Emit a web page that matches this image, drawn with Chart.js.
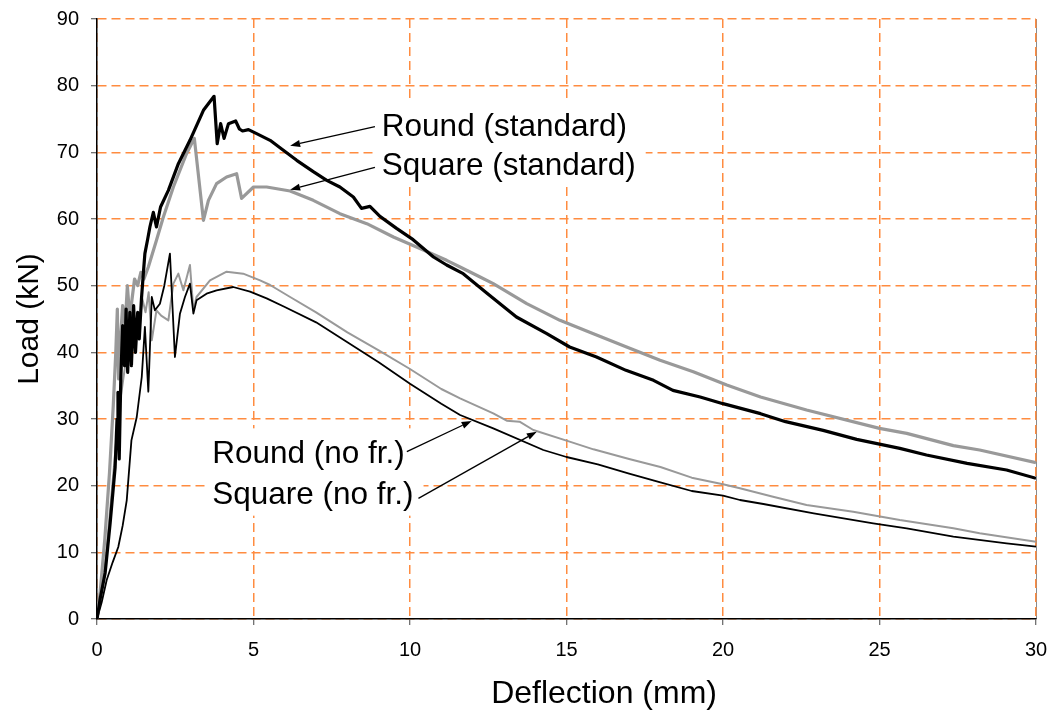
<!DOCTYPE html>
<html>
<head>
<meta charset="utf-8">
<script src="https://cdn.jsdelivr.net/npm/chart.js@4/dist/chart.umd.min.js"></script>
<style>
  html, body { margin: 0; padding: 0; background: #fff; }
  canvas { display: block; }
</style>
</head>
<body>
<canvas id="chart" width="1052" height="713"></canvas>
<script>
// Load–deflection curves: deflection in mm, load in kN
const roundStdX = [0, 0.1, 0.26, 0.42, 0.58, 0.64, 0.67, 0.71, 0.76, 0.82, 0.88, 0.93, 0.98, 1.05, 1.1, 1.17, 1.23, 1.3, 1.35, 1.42, 1.48, 1.53, 1.62, 1.69, 1.8, 1.9, 2.03, 2.28, 2.6, 2.97, 3.4, 3.74, 3.84, 3.95, 4.06, 4.2, 4.43, 4.55, 4.65, 4.84, 5.1, 5.53, 5.9, 6.38, 6.91, 7.34, 7.76, 8.19, 8.45, 8.72, 9.04, 9.57, 10.1, 10.75, 11.17, 11.7, 12.45, 13.4, 14.37, 15.1, 15.96, 16.9, 17.78, 18.4, 19.27, 20, 21.2, 22.0, 23.2, 24.27, 25.65, 26.5, 27.8, 29.06, 30];
const roundStdY = [0, 3, 6.9, 14.4, 22.8, 30, 34, 24, 36, 44, 38, 46.5, 37, 46, 38, 47, 40, 46, 42, 48, 51.8, 54.8, 57, 58.8, 61, 58.8, 61.8, 64.3, 68.3, 71.8, 76.3, 78.4, 71.3, 74.3, 72.1, 74.3, 74.7, 73.5, 73.2, 73.4, 72.8, 71.8, 70.5, 68.8, 67.1, 65.8, 64.8, 63.3, 61.6, 61.9, 60.4, 58.6, 56.9, 54.3, 53.1, 51.8, 48.9, 45.3, 42.8, 40.8, 39.3, 37.3, 35.8, 34.3, 33.3, 32.3, 30.8, 29.6, 28.3, 26.95, 25.6, 24.6, 23.35, 22.35, 21.1];

const squareStdX = [0, 0.1, 0.25, 0.4, 0.52, 0.6, 0.65, 0.69, 0.75, 0.82, 0.9, 0.97, 1.05, 1.12, 1.2, 1.3, 1.4, 1.5, 1.64, 1.9, 2.12, 2.44, 2.86, 3.11, 3.4, 3.56, 3.82, 4.14, 4.46, 4.62, 5.0, 5.42, 6.17, 6.91, 7.76, 8.62, 9.47, 10.3, 11.17, 11.6, 12.24, 12.66, 13.73, 14.79, 15.86, 16.92, 17.99, 19.05, 20.12, 21.2, 22.67, 25.0, 25.87, 27.36, 28.2, 30];
const squareStdY = [0, 4, 12, 22, 32, 40, 46.5, 36, 42, 47, 44, 50, 45, 48, 51, 50, 52, 51, 52.8, 56.8, 60.3, 64.8, 69.8, 72.1, 59.8, 62.8, 65.3, 66.3, 66.8, 63.1, 64.8, 64.8, 64.2, 62.8, 60.8, 59.3, 57.3, 55.6, 53.8, 52.8, 51.3, 50.3, 47.3, 44.8, 42.8, 40.8, 38.8, 37.1, 35.1, 33.3, 31.35, 28.6, 27.85, 26.0, 25.35, 23.45];

const roundNoFrX = [0, 0.15, 0.31, 0.5, 0.68, 0.82, 0.95, 1.05, 1.1, 1.27, 1.43, 1.53, 1.64, 1.75, 1.85, 2.01, 2.15, 2.33, 2.49, 2.65, 2.81, 2.97, 3.08, 3.18, 3.5, 3.82, 4.35, 4.89, 5.42, 6, 7, 8, 9, 10, 11, 11.6, 12.66, 14.26, 15, 16, 17, 18, 19, 20, 20.54, 21.29, 22.9, 24.8, 25.87, 27.36, 29.06, 30];
const roundNoFrY = [0, 2.5, 5.85, 8.5, 10.8, 14, 17.8, 23.8, 26.8, 30.3, 36.3, 43.8, 34.1, 48.3, 46.3, 47.3, 50, 54.8, 39.3, 45.8, 48.3, 50.3, 45.8, 47.8, 48.8, 49.3, 49.8, 49.1, 48.1, 46.8, 44.5, 41.5, 38.5, 35.3, 32.3, 30.6, 28.6, 25.35, 24.3, 23.2, 21.8, 20.5, 19.2, 18.5, 17.85, 17.25, 15.85, 14.35, 13.6, 12.35, 11.35, 10.85];

const squareNoFrX = [0, 0.15, 0.3, 0.45, 0.6, 0.75, 0.9, 1.05, 1.2, 1.35, 1.45, 1.55, 1.65, 1.75, 1.9, 2.05, 2.28, 2.44, 2.6, 2.76, 2.97, 3.08, 3.18, 3.61, 4.14, 4.67, 5.21, 5.53, 6.17, 7, 8, 9, 10, 11, 11.6, 12.66, 13.09, 13.5, 13.94, 15.1, 15.86, 17, 18, 19, 20, 20.54, 21.6, 22.67, 24.16, 25.65, 27.36, 28.2, 30];
const squareNoFrY = [0, 4, 10, 18, 26, 33, 38, 42, 45, 44, 48, 46, 49, 41.8, 46.3, 45.5, 44.8, 50.3, 51.8, 49.3, 53.1, 46.3, 48.3, 50.8, 52.1, 51.8, 50.8, 50.1, 48.3, 46, 43, 40.3, 37.5, 34.5, 33.1, 30.85, 29.75, 29.6, 28.35, 26.6, 25.45, 24, 22.8, 21.2, 20.2, 19.6, 18.35, 17.1, 16.1, 14.85, 13.6, 12.85, 11.6];

// Axis ranges and tick spacing
const xTickValues = [0, 5, 10, 15, 20, 25, 30];
const yTickValues = [0, 10, 20, 30, 40, 50, 60, 70, 80, 90];

const seriesNames = ['Round (standard)', 'Square (standard)', 'Round (no fr.)', 'Square (no fr.)'];
const xAxisTitle = 'Deflection (mm)';
const yAxisTitle = 'Load (kN)';

function toPoints(xs, ys) {
  return xs.map((x, i) => ({ x: x, y: ys[i] }));
}

const FONT = "'Liberation Sans', Arial, Helvetica, sans-serif";
const CALLOUT_FONT = '31.5px ' + FONT;

// Callout groups: text block placed at a data position, arrows from the text to each curve
const callouts = [
  {
    lines: [
      { text: seriesNames[0], x: 9.1, y: 72.5, tail: [8.88, 73.84], tip: [6.17, 71.0] },
      { text: seriesNames[1], x: 9.1, y: 66.6, tail: [8.88, 67.75], tip: [6.17, 64.4] }
    ]
  },
  {
    lines: [
      { text: seriesNames[2], x: 3.68, y: 23.35, tail: [9.9, 25.1], tip: [11.97, 29.7] },
      { text: seriesNames[3], x: 3.68, y: 17.3, tail: [10.27, 18.1], tip: [14.05, 28.1] }
    ]
  }
];

function drawArrow(ctx, x1, y1, x2, y2) {
  const ang = Math.atan2(y2 - y1, x2 - x1);
  const head = 10, half = 3.5;
  const bx = x2 - head * Math.cos(ang), by = y2 - head * Math.sin(ang);
  ctx.beginPath();
  ctx.moveTo(x1, y1);
  ctx.lineTo(bx, by);
  ctx.stroke();
  ctx.beginPath();
  ctx.moveTo(x2, y2);
  ctx.lineTo(bx + half * Math.sin(ang), by - half * Math.cos(ang));
  ctx.lineTo(bx - half * Math.sin(ang), by + half * Math.cos(ang));
  ctx.closePath();
  ctx.fill();
}

const calloutPlugin = {
  id: 'callouts',
  beforeDraw(chart) {
    // thin grey frame line on the right edge of the plot, under the grid dashes
    const { ctx, chartArea } = chart;
    ctx.save();
    ctx.strokeStyle = '#8a8a8a';
    ctx.lineWidth = 1;
    ctx.beginPath();
    ctx.moveTo(Math.round(chartArea.right) + 0.5, chartArea.top);
    ctx.lineTo(Math.round(chartArea.right) + 0.5, chartArea.bottom);
    ctx.stroke();
    ctx.restore();
  },
  beforeDatasetsDraw(chart) {
    // white panels behind the callout text hide the grid
    const { ctx, scales } = chart;
    ctx.save();
    ctx.font = CALLOUT_FONT;
    ctx.fillStyle = '#ffffff';
    callouts.forEach(g => {
      const xs = g.lines.map(l => scales.x.getPixelForValue(l.x));
      const ys = g.lines.map(l => scales.y.getPixelForValue(l.y));
      const w = Math.max(...g.lines.map(l => ctx.measureText(l.text).width));
      const left = Math.min(...xs) - 5;
      const top = Math.min(...ys) - 35;
      const bottom = Math.max(...ys) + 12;
      ctx.fillRect(left, top, w + 15, bottom - top);
    });
    ctx.restore();
  },
  afterDatasetsDraw(chart) {
    const { ctx, scales, chartArea } = chart;
    ctx.save();
    ctx.font = CALLOUT_FONT;
    ctx.fillStyle = '#000';
    ctx.strokeStyle = '#000';
    ctx.lineWidth = 1.3;
    ctx.textAlign = 'left';
    ctx.textBaseline = 'alphabetic';
    callouts.forEach(g => {
      g.lines.forEach(l => {
        ctx.fillText(l.text, scales.x.getPixelForValue(l.x), scales.y.getPixelForValue(l.y));
        drawArrow(ctx,
          scales.x.getPixelForValue(l.tail[0]), scales.y.getPixelForValue(l.tail[1]),
          scales.x.getPixelForValue(l.tip[0]), scales.y.getPixelForValue(l.tip[1]));
      });
    });
    // horizontal axis title, set a little right of the plot centre
    ctx.font = '32px ' + FONT;
    ctx.textAlign = 'center';
    ctx.textBaseline = 'middle';
    ctx.fillText(xAxisTitle, scales.x.getPixelForValue(16.2), chartArea.bottom + 75);
    ctx.restore();
  }
};

const gridColor = '#ff8c40';

// fixed axis boxes so the plot area sits at 97..1036 x 19..619
function fixX(s) {
  s.height = 94;
  s.paddingLeft = 0; s.paddingRight = 0; s.paddingTop = 0; s.paddingBottom = 0;
}
function fixY(s) {
  s.width = 97;
  s.paddingLeft = 0; s.paddingRight = 0; s.paddingTop = 0; s.paddingBottom = 0;
}

new Chart(document.getElementById('chart'), {
  type: 'scatter',
  data: {
    datasets: [
      { label: seriesNames[0], data: toPoints(roundStdX, roundStdY), borderColor: '#000000', borderWidth: 3.2 },
      { label: seriesNames[1], data: toPoints(squareStdX, squareStdY), borderColor: '#999999', borderWidth: 3.2 },
      { label: seriesNames[2], data: toPoints(roundNoFrX, roundNoFrY), borderColor: '#000000', borderWidth: 1.8 },
      { label: seriesNames[3], data: toPoints(squareNoFrX, squareNoFrY), borderColor: '#999999', borderWidth: 2 }
    ].map(d => Object.assign(d, { showLine: true, pointRadius: 0, pointHoverRadius: 0, tension: 0, fill: false, borderJoinStyle: 'round' }))
  },
  options: {
    responsive: false,
    animation: false,
    devicePixelRatio: 1,
    layout: { padding: { left: 0, right: 16, top: 19, bottom: 0 } },
    plugins: { legend: { display: false }, tooltip: { enabled: false } },
    scales: {
      x: {
        type: 'linear',
        min: xTickValues[0],
        max: xTickValues[xTickValues.length - 1],
        afterBuildTicks: s => { s.ticks = xTickValues.map(v => ({ value: v })); },
        afterFit: fixX,
        ticks: { color: '#000', font: { family: FONT, size: 20 }, padding: 13, maxRotation: 0 },
        grid: { color: gridColor, lineWidth: 1.5, tickColor: '#444', tickWidth: 1, tickLength: 6 },
        border: { color: '#000', width: 1.5, dash: [9, 5] },
        title: { display: false }
      },
      y: {
        type: 'linear',
        min: yTickValues[0],
        max: yTickValues[yTickValues.length - 1],
        afterBuildTicks: s => { s.ticks = yTickValues.map(v => ({ value: v })); },
        afterFit: fixY,
        ticks: { color: '#000', font: { family: FONT, size: 20 }, padding: 12 },
        grid: { color: gridColor, lineWidth: 1.5, tickColor: '#444', tickWidth: 1, tickLength: 6 },
        border: { color: '#000', width: 1.5, dash: [9, 5] },
        title: { display: true, text: yAxisTitle, color: '#000', font: { family: FONT, size: 30 }, padding: { top: 12, bottom: 0 } }
      }
    }
  },
  plugins: [calloutPlugin]
});
</script>
</body>
</html>
